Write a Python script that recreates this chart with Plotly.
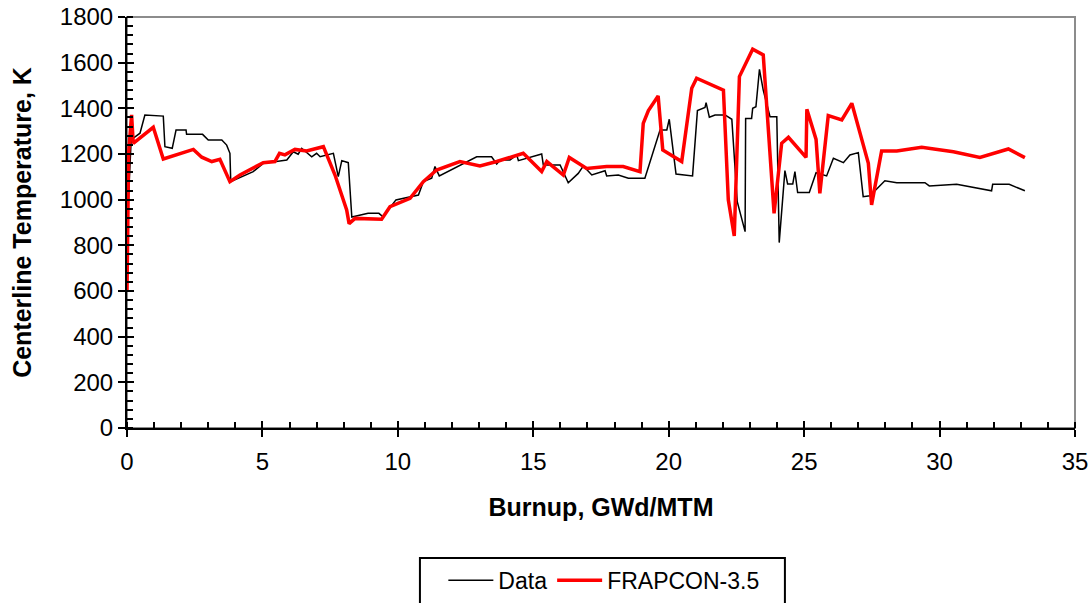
import plotly.graph_objects as go

data_x = [0.05, 0.15, 0.23, 0.48, 0.66, 1.34, 1.40, 1.67, 1.81, 2.18, 2.2, 2.79, 3.0, 3.5, 3.68, 3.8, 3.83,
          4.66, 5.03, 5.9, 6.14, 6.32, 6.45, 6.82, 7.0, 7.13, 7.62, 7.8, 7.93, 8.17, 8.3, 8.9, 9.3, 9.45,
          9.93, 10.76, 10.94, 11.25, 11.37, 11.53, 12.91, 13.46, 13.65, 13.77, 14.14, 14.39, 14.45, 15.31,
          15.37, 15.99, 16.29, 16.66, 16.85, 17.16, 17.65, 17.71, 18.14, 18.51, 19.12, 19.68, 19.93, 20.02,
          20.27, 20.88, 21.06, 21.34, 21.38, 21.5, 21.71, 22.08, 22.33, 22.53, 22.82, 22.84, 23.06, 23.1,
          23.22, 23.35, 23.49, 23.74, 23.99, 24.08, 24.29, 24.39, 24.58, 24.66, 24.76, 25.19, 25.44, 25.83,
          26.08, 26.45, 26.69, 27.0, 27.18, 27.43, 27.98, 28.42, 29.46, 29.62, 30.63, 31.25, 31.92, 31.96,
          32.57, 33.15]
data_t = [1000, 1250, 1269, 1291, 1371, 1366, 1232, 1225, 1305, 1305, 1286, 1286, 1261, 1261, 1239, 1203, 1079,
          1123, 1159, 1174, 1210, 1199, 1225, 1188, 1203, 1188, 1203, 1101, 1171, 1162, 924, 940, 940, 925,
          999, 1020, 1079, 1094, 1145, 1104, 1188, 1188, 1156, 1174, 1174, 1196, 1171, 1200,
          1152, 1152, 1074, 1115, 1148, 1108, 1127, 1104, 1108, 1094, 1094, 1305, 1305, 1352,
          1112, 1104, 1390, 1404, 1425, 1361, 1371, 1371, 1352, 991, 860, 1356, 1356, 1400,
          1407, 1571, 1480, 1363, 1363, 812, 1127, 1069, 1069, 1123, 1031, 1031, 1118, 1104,
          1181, 1162, 1196, 1206, 1013, 1017, 1083, 1074, 1074, 1060, 1067, 1054, 1039, 1067,
          1067, 1039]

frap_x = [0.0, 0.03, 0.06, 0.17, 0.23, 0.97, 1.34, 2.45, 2.76, 3.13, 3.43, 3.8, 4.17, 5.03, 5.46, 5.63, 5.83,
          6.2, 6.63, 7.25, 7.68, 8.11, 8.2, 8.42, 9.4, 9.71, 10.45, 10.94, 11.43, 12.29, 13.03, 13.65, 14.63,
          15.31, 15.5, 16.11, 16.33, 16.97, 17.71, 18.32, 18.94, 19.06, 19.25, 19.61, 19.78, 20.48, 20.85,
          21.03, 22.02, 22.2, 22.42, 22.61, 23.1, 23.49, 23.89, 24.17, 24.42, 25.07, 25.1, 25.44, 25.58,
          25.89, 26.39, 26.76, 27.37, 27.49, 27.86, 28.42, 29.34, 30.51, 31.49, 32.54, 33.15]
frap_t = [600, 1000, 1203, 1371, 1247, 1317, 1178, 1220, 1186, 1167, 1177, 1079, 1108, 1162, 1167, 1203, 1196,
          1220, 1213, 1232, 1108, 955, 895, 918, 914, 969, 1006, 1079, 1130, 1167, 1148, 1167, 1203,
          1123, 1167, 1108, 1185, 1137, 1145, 1145, 1123, 1334, 1390, 1454, 1218, 1167, 1488,
          1532, 1480, 999, 841, 1539, 1659, 1634, 940, 1247, 1273, 1185, 1396, 1264, 1028,
          1368, 1349, 1422, 1159, 977, 1213, 1213, 1229, 1210, 1185, 1222, 1184]

x_title = "Burnup, GWd/MTM"
y_title = "Centerline Temperature, K"

FONT = "Arial, Liberation Sans, sans-serif"

fig = go.Figure()
fig.add_trace(go.Scatter(x=data_x, y=data_t, mode="lines", name="Data",
                         line=dict(color="black", width=1.5)))
fig.add_trace(go.Scatter(x=frap_x, y=frap_t, mode="lines", name="FRAPCON-3.5",
                         line=dict(color="#ff0000", width=3.5)))
# invisible helper trace for the inner half of major ticks
fig.add_trace(go.Scatter(x=[None], y=[None], xaxis="x2", yaxis="y2", showlegend=False, hoverinfo="skip"))

# plot frame (grey top/right)
fig.add_shape(type="rect", xref="paper", yref="paper", x0=0, y0=0, x1=1, y1=1,
              line=dict(color="#8c8c8c", width=2), layer="below")
# legend frame
fig.add_shape(type="rect", xref="paper", yref="paper", x0=0.309, x1=0.694, y0=-0.316, y1=-0.46,
              line=dict(color="black", width=2), fillcolor="white", layer="below")

fig.update_layout(
    width=1091, height=603,
    paper_bgcolor="white", plot_bgcolor="white",
    margin=dict(l=127, r=16, t=17, b=175, autoexpand=False),
    font=dict(family=FONT, size=23, color="black"),
    xaxis=dict(range=[0, 35], dtick=5, tick0=0, showgrid=False, zeroline=False,
               showline=True, linecolor="black", linewidth=2,
               ticks="outside", ticklen=7, tickwidth=2, tickcolor="black",
               minor=dict(dtick=1, ticks="inside", ticklen=6, tickwidth=2, tickcolor="black"),
               tickfont=dict(size=24), ticklabelstandoff=4, automargin=False,
               title=dict(text="<b>" + x_title + "</b>", font=dict(size=25), standoff=25)),
    yaxis=dict(range=[0, 1800], dtick=200, tick0=0, showgrid=False, zeroline=False,
               showline=True, linecolor="black", linewidth=2,
               ticks="outside", ticklen=7, tickwidth=2, tickcolor="black",
               minor=dict(dtick=40, ticks="inside", ticklen=6, tickwidth=2, tickcolor="black"),
               tickfont=dict(size=24), automargin=False,
               title=dict(text="<b>" + y_title + "</b>", font=dict(size=25), standoff=21)),
    xaxis2=dict(range=[0, 35], dtick=5, tick0=0, overlaying="x", showgrid=False, zeroline=False,
                showline=False, ticks="inside", ticklen=7, tickwidth=2, tickcolor="black",
                showticklabels=False, side="bottom"),
    yaxis2=dict(range=[0, 1800], dtick=200, tick0=0, overlaying="y", showgrid=False, zeroline=False,
                showline=False, ticks="inside", ticklen=7, tickwidth=2, tickcolor="black",
                showticklabels=False, side="left"),
    legend=dict(orientation="h", x=0.503, xanchor="center", y=-0.318, yanchor="top",
                borderwidth=0, bgcolor="rgba(0,0,0,0)",
                font=dict(size=23), tracegroupgap=0, itemwidth=45),
    showlegend=True,
)

fig.write_html("out.html", config={"displayModeBar": False},
               post_script="document.body.style.margin='0';document.body.style.overflow='hidden';")
